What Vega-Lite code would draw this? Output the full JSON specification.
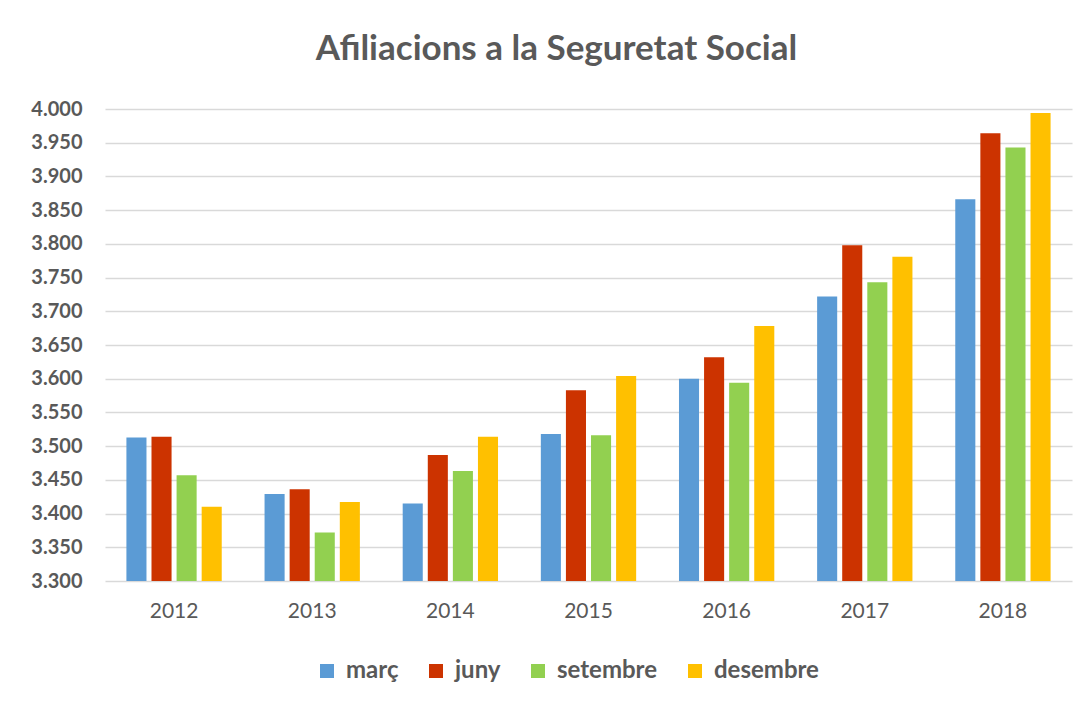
{
  "$schema": "https://vega.github.io/schema/vega-lite/v6.json",
  "width": 967,
  "height": 472,
  "autosize": {"type": "none"},
  "padding": {"left": 105, "top": 109, "right": 16, "bottom": 120},
  "background": "white",
  "title": {
    "text": "Afiliacions a la Seguretat Social",
    "font": "Lato",
    "fontSize": 35,
    "fontWeight": "bold",
    "color": "#595959",
    "anchor": "middle",
    "dx": -32,
    "offset": 32
  },
  "data": {
    "values": [
      {"any": "2012", "mes": "març", "valor": 3513},
      {"any": "2012", "mes": "juny", "valor": 3514},
      {"any": "2012", "mes": "setembre", "valor": 3457},
      {"any": "2012", "mes": "desembre", "valor": 3410},
      {"any": "2013", "mes": "març", "valor": 3429},
      {"any": "2013", "mes": "juny", "valor": 3436},
      {"any": "2013", "mes": "setembre", "valor": 3372},
      {"any": "2013", "mes": "desembre", "valor": 3417},
      {"any": "2014", "mes": "març", "valor": 3415},
      {"any": "2014", "mes": "juny", "valor": 3487},
      {"any": "2014", "mes": "setembre", "valor": 3463},
      {"any": "2014", "mes": "desembre", "valor": 3514},
      {"any": "2015", "mes": "març", "valor": 3518},
      {"any": "2015", "mes": "juny", "valor": 3583},
      {"any": "2015", "mes": "setembre", "valor": 3516},
      {"any": "2015", "mes": "desembre", "valor": 3604},
      {"any": "2016", "mes": "març", "valor": 3600},
      {"any": "2016", "mes": "juny", "valor": 3632},
      {"any": "2016", "mes": "setembre", "valor": 3594},
      {"any": "2016", "mes": "desembre", "valor": 3678},
      {"any": "2017", "mes": "març", "valor": 3722},
      {"any": "2017", "mes": "juny", "valor": 3798},
      {"any": "2017", "mes": "setembre", "valor": 3743},
      {"any": "2017", "mes": "desembre", "valor": 3781},
      {"any": "2018", "mes": "març", "valor": 3866},
      {"any": "2018", "mes": "juny", "valor": 3964},
      {"any": "2018", "mes": "setembre", "valor": 3943},
      {"any": "2018", "mes": "desembre", "valor": 3994}
    ]
  },
  "mark": {"type": "bar"},
  "encoding": {
    "x": {
      "field": "any",
      "type": "nominal",
      "scale": {"paddingInner": 0.31, "paddingOuter": 0.155},
      "axis": {
        "title": null,
        "labelAngle": 0,
        "ticks": false,
        "domain": false,
        "labelFont": "Lato",
        "labelFontSize": 21,
        "labelColor": "#595959",
        "labelPadding": 19
      }
    },
    "xOffset": {
      "field": "mes",
      "type": "nominal",
      "sort": ["març", "juny", "setembre", "desembre"],
      "scale": {"paddingInner": 0.2, "paddingOuter": 0}
    },
    "y": {
      "field": "valor",
      "type": "quantitative",
      "scale": {"domain": [3300, 4000], "zero": false, "nice": false},
      "axis": {
        "title": null,
        "values": [3300, 3350, 3400, 3450, 3500, 3550, 3600, 3650, 3700, 3750, 3800, 3850, 3900, 3950, 4000],
        "labelExpr": "replace(format(datum.value, ','), ',', '.')",
        "ticks": false,
        "domain": false,
        "grid": true,
        "gridColor": "#D9D9D9",
        "gridWidth": 1.5,
        "labelFont": "Lato",
        "labelFontSize": 20,
        "labelFontWeight": "bold",
        "labelColor": "#595959",
        "labelPadding": 23
      }
    },
    "y2": {"datum": 3300},
    "color": {
      "field": "mes",
      "type": "nominal",
      "sort": ["març", "juny", "setembre", "desembre"],
      "scale": {
        "domain": ["març", "juny", "setembre", "desembre"],
        "range": ["#5B9BD5", "#CC3300", "#92D050", "#FFC000"]
      },
      "legend": {
        "title": null,
        "orient": "none",
        "direction": "horizontal",
        "legendX": 210,
        "legendY": 550,
        "symbolType": "square",
        "symbolSize": 196,
        "symbolStrokeWidth": 0,
        "labelFont": "Lato",
        "labelFontSize": 24,
        "labelFontWeight": "bold",
        "labelColor": "#595959",
        "labelOffset": 7,
        "columnPadding": 25
      }
    }
  },
  "config": {
    "view": {"stroke": null}
  }
}
